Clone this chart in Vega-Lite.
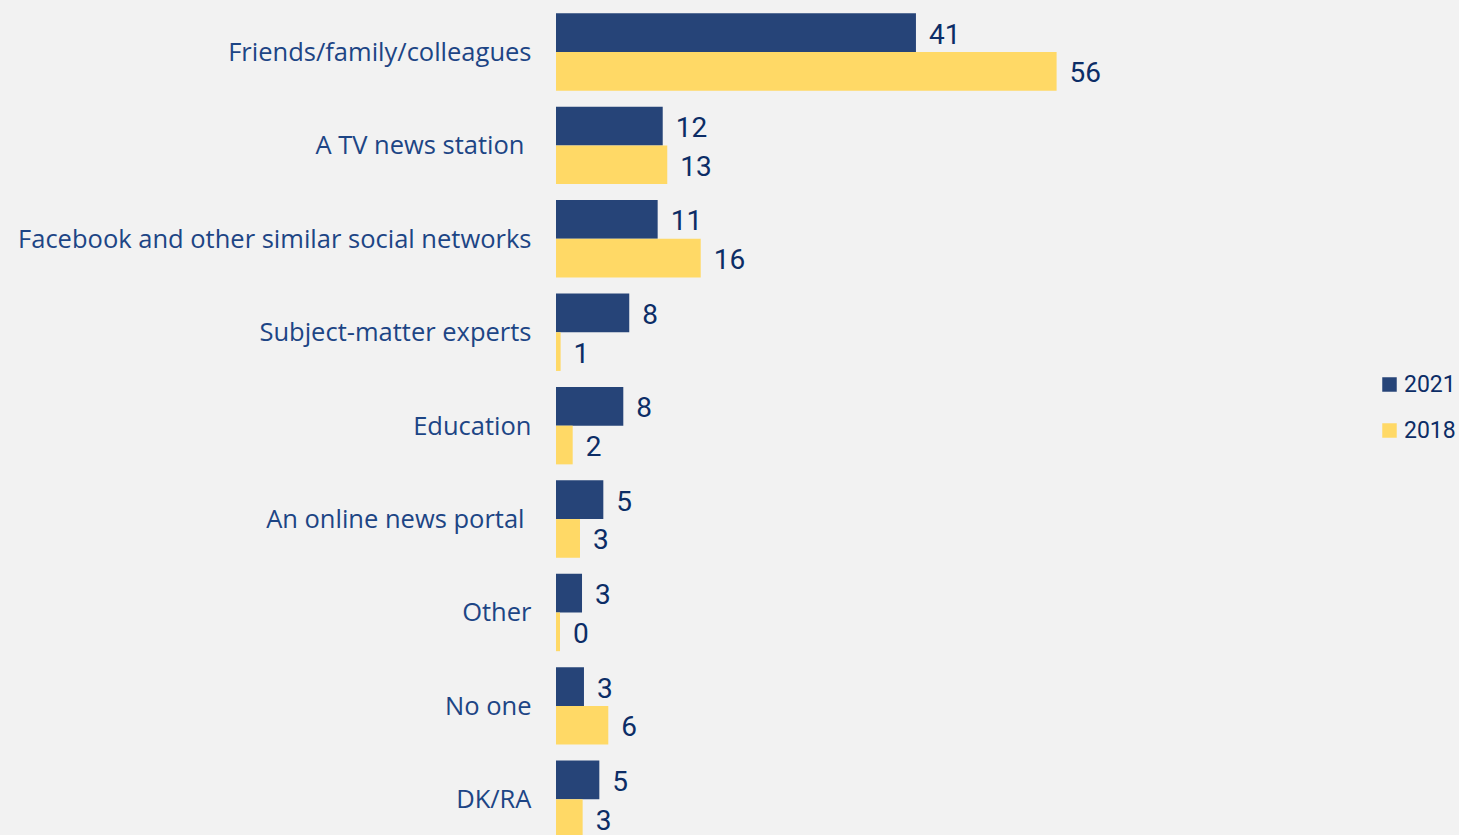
{
  "$schema": "https://vega.github.io/schema/vega-lite/v6.json",
  "autosize": {"type": "none"},
  "padding": {"left": 556, "top": 0, "right": 0, "bottom": 0},
  "width": 903,
  "height": 835,
  "background": "#F2F2F2",
  "config": {"view": {"stroke": null}, "font": "Roboto"},
  "data": {
    "values": [
      {"category": "Friends/family/colleagues", "year": "2021", "value": 40.54},
      {"category": "Friends/family/colleagues", "year": "2018", "value": 56.38},
      {"category": "A TV news station", "year": "2021", "value": 12.02},
      {"category": "A TV news station", "year": "2018", "value": 12.53},
      {"category": "Facebook and other similar social networks", "year": "2021", "value": 11.45},
      {"category": "Facebook and other similar social networks", "year": "2018", "value": 16.3},
      {"category": "Subject-matter experts", "year": "2021", "value": 8.25},
      {"category": "Subject-matter experts", "year": "2018", "value": 0.52},
      {"category": "Education", "year": "2021", "value": 7.58},
      {"category": "Education", "year": "2018", "value": 1.88},
      {"category": "An online news portal", "year": "2021", "value": 5.33},
      {"category": "An online news portal", "year": "2018", "value": 2.7},
      {"category": "Other", "year": "2021", "value": 2.93},
      {"category": "Other", "year": "2018", "value": 0.45},
      {"category": "No one", "year": "2021", "value": 3.15},
      {"category": "No one", "year": "2018", "value": 5.89},
      {"category": "DK/RA", "year": "2021", "value": 4.88},
      {"category": "DK/RA", "year": "2018", "value": 3.0}
    ]
  },
  "encoding": {
    "y": {
      "field": "category",
      "type": "nominal",
      "sort": null,
      "scale": {"range": [13.3, 838], "paddingInner": 0.1713, "paddingOuter": 0},
      "axis": {
        "title": null,
        "domain": false,
        "ticks": false,
        "tickSize": 0,
        "labelPadding": {"condition": {"test": "datum.value === 'A TV news station' || datum.value === 'An online news portal'", "value": 32}, "value": 25},
        "labelFontSize": 25.5,
        "labelFont": "Open Sans",
        "labelColor": "#1d4585",
        "labelLimit": 600,
        "labelOffset": 1,
        "grid": false
      }
    },
    "yOffset": {
      "field": "year",
      "type": "nominal",
      "sort": ["2021", "2018"],
      "scale": {"paddingInner": 0, "paddingOuter": 0}
    },
    "x": {
      "field": "value",
      "type": "quantitative",
      "scale": {"domain": [0, 101.7], "nice": false},
      "axis": null
    }
  },
  "layer": [
    {
      "mark": {"type": "bar"},
      "encoding": {
        "color": {
          "field": "year",
          "type": "nominal",
          "scale": {"domain": ["2021", "2018"], "range": ["#264478", "#FFD966"]},
          "legend": {
            "title": null,
            "orient": "none",
            "legendX": 822,
            "legendY": 373,
            "symbolType": "square",
            "symbolSize": 210,
            "symbolStrokeWidth": 0,
            "labelFontSize": 23,
            "labelFont": "Roboto",
            "labelColor": "#0c2d66",
            "rowPadding": 22,
            "labelOffset": 3
          }
        }
      }
    },
    {
      "mark": {"type": "text", "align": "left", "baseline": "middle", "dx": 13, "dy": 3, "fontSize": 28, "color": "#0c2d66"},
      "encoding": {"text": {"field": "value", "type": "quantitative", "format": ".0f"}}
    }
  ]
}
